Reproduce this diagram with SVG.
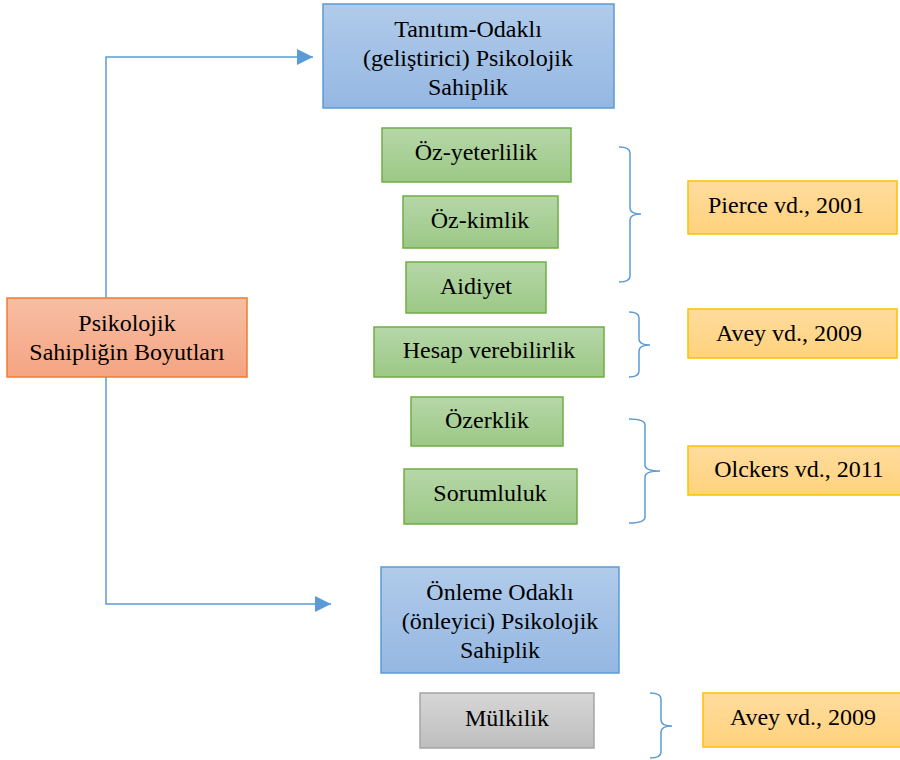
<svg xmlns="http://www.w3.org/2000/svg" width="900" height="760" viewBox="0 0 900 760">
<defs>
<linearGradient id="gBlue" x1="0" y1="0" x2="0" y2="1"><stop offset="0" stop-color="#B1CBEA"/><stop offset="1" stop-color="#94B7E2"/></linearGradient>
<linearGradient id="gGreen" x1="0" y1="0" x2="0" y2="1"><stop offset="0" stop-color="#B6D7A8"/><stop offset="1" stop-color="#9CC886"/></linearGradient>
<linearGradient id="gOrange" x1="0" y1="0" x2="0" y2="1"><stop offset="0" stop-color="#F8BEA3"/><stop offset="1" stop-color="#F4A482"/></linearGradient>
<linearGradient id="gGold" x1="0" y1="0" x2="0" y2="1"><stop offset="0" stop-color="#FFDC9E"/><stop offset="1" stop-color="#FFD27C"/></linearGradient>
<linearGradient id="gGray" x1="0" y1="0" x2="0" y2="1"><stop offset="0" stop-color="#D6D6D6"/><stop offset="1" stop-color="#BEBEBE"/></linearGradient>
<marker id="arr" viewBox="0 0 16 16" refX="16" refY="8" markerWidth="16" markerHeight="16" markerUnits="userSpaceOnUse" orient="auto"><path d="M0,0 L16,8 L0,16 Z" fill="#5B9BD5"/></marker>
</defs>
<style>
.t{font-family:'Liberation Serif','Times New Roman',serif;font-size:24px;fill:#000;text-anchor:middle}
.blue{fill:url(#gBlue);stroke:#5B9BD5;stroke-width:1.5}
.green{fill:url(#gGreen);stroke:#70AD47;stroke-width:1.5}
.orange{fill:url(#gOrange);stroke:#ED7D31;stroke-width:1.5}
.gold{fill:url(#gGold);stroke:#FFC000;stroke-width:1.5}
.gray{fill:url(#gGray);stroke:#A5A5A5;stroke-width:1.5}
.conn{fill:none;stroke:#5B9BD5;stroke-width:1.5}
</style>
<rect width="900" height="760" fill="#fff"/>
<g id="connectors">
<path class="conn" d="M106,298 L106,57 L313,57" marker-end="url(#arr)"/>
<path class="conn" d="M106,377 L106,604 L331,604" marker-end="url(#arr)"/>
<path class="conn" d="M619,147 Q630,147 630,153 L630,208 Q630,214 641,214 Q630,214 630,220 L630,276 Q630,282 619,282"/>
<path class="conn" d="M629,312 Q639,312 639,318 L639,339 Q639,345 650,345 Q639,345 639,351 L639,371 Q639,377 629,377"/>
<path class="conn" d="M629,419 Q645,419 645,425 L645,465 Q645,471 660,471 Q645,471 645,477 L645,517 Q645,523 629,523"/>
<path class="conn" d="M650,693 Q661,693 661,699 L661,720 Q661,726 672,726 Q661,726 661,732 L661,752 Q661,758 650,758"/>
</g>
<g id="root">
<rect class="orange" x="7" y="298" width="240" height="79"/>
<text class="t" x="127" y="331">Psikolojik</text>
<text class="t" x="127" y="360">Sahipliğin Boyutları</text>
</g>
<g id="tanitim">
<rect class="blue" x="323" y="4" width="291" height="104"/>
<text class="t" x="468" y="37">Tanıtım-Odaklı</text>
<text class="t" x="468" y="66">(geliştirici) Psikolojik</text>
<text class="t" x="468" y="95">Sahiplik</text>
</g>
<g id="ozyeterlilik">
<rect class="green" x="382" y="128" width="189" height="54"/>
<text class="t" x="476" y="160">Öz-yeterlilik</text>
</g>
<g id="ozkimlik">
<rect class="green" x="403" y="196" width="155" height="52"/>
<text class="t" x="480" y="228">Öz-kimlik</text>
</g>
<g id="aidiyet">
<rect class="green" x="406" y="262" width="140" height="51"/>
<text class="t" x="476" y="294">Aidiyet</text>
</g>
<g id="hesap">
<rect class="green" x="374" y="327" width="230" height="50"/>
<text class="t" x="489" y="358">Hesap verebilirlik</text>
</g>
<g id="ozerklik">
<rect class="green" x="411" y="397" width="152" height="49"/>
<text class="t" x="487" y="428">Özerklik</text>
</g>
<g id="sorumluluk">
<rect class="green" x="404" y="469" width="173" height="55"/>
<text class="t" x="490" y="501">Sorumluluk</text>
</g>
<g id="onleme">
<rect class="blue" x="381" y="567" width="238" height="106"/>
<text class="t" x="500" y="600">Önleme Odaklı</text>
<text class="t" x="500" y="629">(önleyici) Psikolojik</text>
<text class="t" x="500" y="658">Sahiplik</text>
</g>
<g id="mulkilik">
<rect class="gray" x="420" y="693" width="174" height="55"/>
<text class="t" x="507" y="726">Mülkilik</text>
</g>
<g id="pierce">
<rect class="gold" x="688" y="181" width="209" height="53"/>
<text class="t" x="786" y="213">Pierce vd., 2001</text>
</g>
<g id="avey1">
<rect class="gold" x="688" y="309" width="209" height="49"/>
<text class="t" x="789" y="341">Avey vd., 2009</text>
</g>
<g id="olckers">
<rect class="gold" x="688" y="446" width="220" height="49"/>
<text class="t" x="799" y="477">Olckers vd., 2011</text>
</g>
<g id="avey2">
<rect class="gold" x="703" y="693" width="205" height="54"/>
<text class="t" x="803" y="725">Avey vd., 2009</text>
</g>
</svg>
